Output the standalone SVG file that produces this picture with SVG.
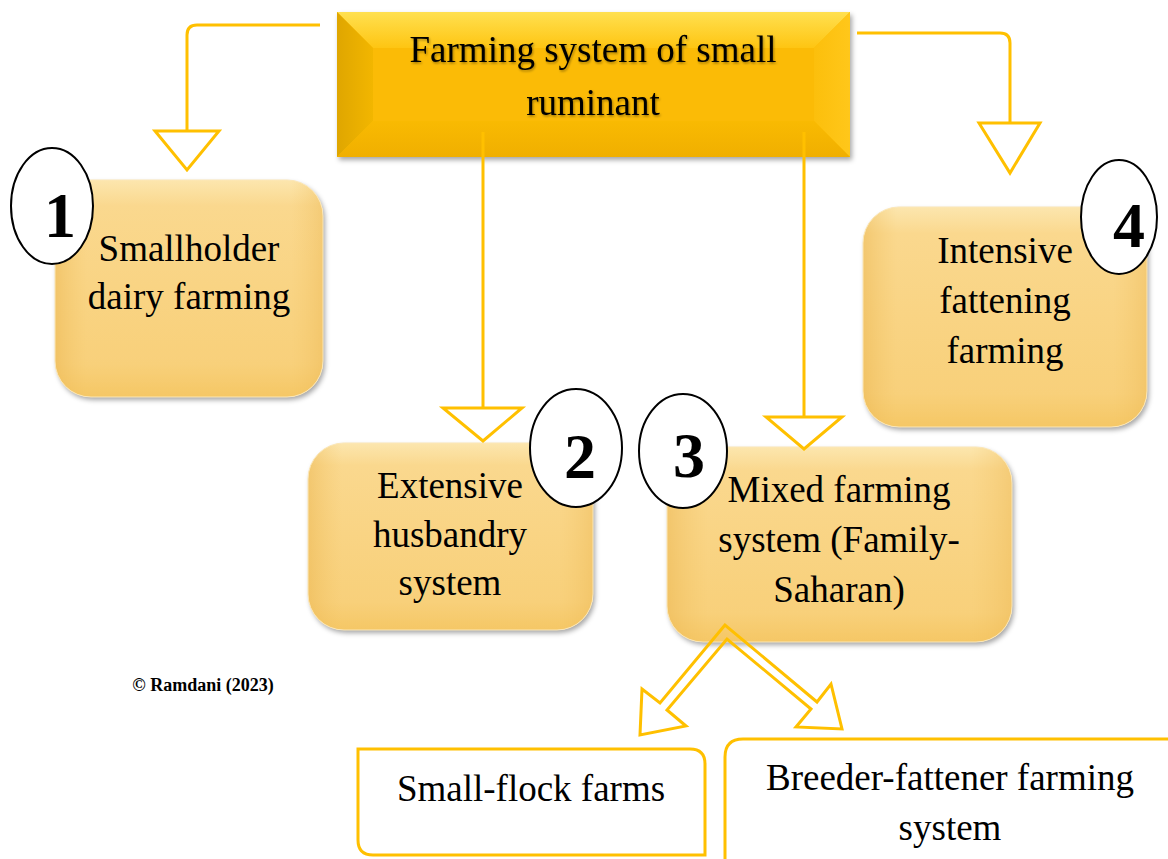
<svg xmlns="http://www.w3.org/2000/svg" width="1168" height="859" viewBox="0 0 1168 859">
  <defs>
    <linearGradient id="nodeV" x1="0" y1="0" x2="0" y2="1">
      <stop offset="0" stop-color="#FCE6AE"/>
      <stop offset="0.12" stop-color="#FAD88E"/>
      <stop offset="0.85" stop-color="#F8D07A"/>
      <stop offset="1" stop-color="#F5C765"/>
    </linearGradient>
    <linearGradient id="nodeH" x1="0" y1="0" x2="1" y2="0">
      <stop offset="0" stop-color="#E9B24A" stop-opacity="0.45"/>
      <stop offset="0.12" stop-color="#F2C260" stop-opacity="0"/>
      <stop offset="0.88" stop-color="#F2C260" stop-opacity="0"/>
      <stop offset="1" stop-color="#E9B24A" stop-opacity="0.35"/>
    </linearGradient>
    <linearGradient id="bevTop" x1="0" y1="0" x2="0" y2="1">
      <stop offset="0" stop-color="#FFE050"/>
      <stop offset="1" stop-color="#FEC512"/>
    </linearGradient>
    <linearGradient id="bevLeft" x1="0" y1="0" x2="1" y2="0">
      <stop offset="0" stop-color="#DFA600"/>
      <stop offset="1" stop-color="#F2B600"/>
    </linearGradient>
    <linearGradient id="bevRight" x1="0" y1="0" x2="1" y2="0">
      <stop offset="0" stop-color="#FCBF0C"/>
      <stop offset="1" stop-color="#FFC71A"/>
    </linearGradient>
    <linearGradient id="bevBot" x1="0" y1="0" x2="0" y2="1">
      <stop offset="0" stop-color="#F9BA02"/>
      <stop offset="1" stop-color="#F0AF00"/>
    </linearGradient>
    <filter id="shadow" x="-10%" y="-10%" width="125%" height="125%">
      <feDropShadow dx="2" dy="3" stdDeviation="2.5" flood-color="#000" flood-opacity="0.35"/>
    </filter>
    <filter id="tshadow" x="-5%" y="-20%" width="110%" height="140%">
      <feDropShadow dx="1" dy="1.5" stdDeviation="1" flood-color="#000" flood-opacity="0.35"/>
    </filter>
  </defs>
  <style>
    .conn { fill: none; stroke: #FFC000; stroke-width: 3; stroke-linejoin: miter; }
    .head { fill: #FFFFFF; stroke: #FFC000; stroke-width: 3; }
    .lbl { font-family: "Liberation Serif", "Times New Roman", serif; font-size: 37px; fill: #000; text-anchor: middle; }
    .num { font-family: "Liberation Serif", "Times New Roman", serif; font-size: 64px; font-weight: bold; fill: #000; text-anchor: middle; }
    .badge { fill: #FFFFFF; stroke: #000; stroke-width: 2; }
    .outline { fill: #FFFFFF; stroke: #FFC000; stroke-width: 3; }
    .copy { font-family: "Liberation Serif", "Times New Roman", serif; font-size: 18px; font-weight: bold; fill: #000; text-anchor: middle; }
  </style>
  <rect width="1168" height="859" fill="#FFFFFF"/>

  <g id="root">
    <g filter="url(#shadow)">
      <rect x="337" y="12" width="513" height="145" fill="#FBBB06"/>
    </g>
    <polygon points="337,12 850,12 814,48 373,48" fill="url(#bevTop)"/>
    <polygon points="337,12 373,48 373,121 337,157" fill="url(#bevLeft)"/>
    <polygon points="850,12 850,157 814,121 814,48" fill="url(#bevRight)"/>
    <polygon points="337,157 373,121 814,121 850,157" fill="url(#bevBot)"/>
    <rect x="373" y="48" width="441" height="73" fill="#FBBB06"/>
    <g filter="url(#tshadow)">
      <text class="lbl" x="593" y="62">Farming system of small</text>
      <text class="lbl" x="593" y="115">ruminant</text>
    </g>
  </g>

  <g id="node1">
    <rect x="55" y="180" width="268" height="217" rx="36" fill="url(#nodeV)" filter="url(#shadow)"/>
    <rect x="55" y="180" width="268" height="217" rx="36" fill="url(#nodeH)" stroke="#FBE7B8" stroke-width="1"/>
    <text class="lbl" x="189" y="261">Smallholder</text>
    <text class="lbl" x="189" y="309">dairy farming</text>
    <ellipse class="badge" cx="52" cy="206" rx="41" ry="58"/>
    <text class="num" x="60" y="237">1</text>
  </g>

  <g id="node2">
    <rect x="308" y="443" width="285" height="187" rx="36" fill="url(#nodeV)" filter="url(#shadow)"/>
    <rect x="308" y="443" width="285" height="187" rx="36" fill="url(#nodeH)" stroke="#FBE7B8" stroke-width="1"/>
    <text class="lbl" x="450" y="498">Extensive</text>
    <text class="lbl" x="450" y="547">husbandry</text>
    <text class="lbl" x="450" y="595">system</text>
    <ellipse class="badge" cx="576" cy="448" rx="46" ry="59"/>
    <text class="num" x="580" y="478">2</text>
  </g>

  <g id="node3">
    <rect x="667" y="447" width="345" height="195" rx="36" fill="url(#nodeV)" filter="url(#shadow)"/>
    <rect x="667" y="447" width="345" height="195" rx="36" fill="url(#nodeH)" stroke="#FBE7B8" stroke-width="1"/>
    <text class="lbl" x="839" y="502">Mixed farming</text>
    <text class="lbl" x="839" y="552">system (Family-</text>
    <text class="lbl" x="839" y="602">Saharan)</text>
    <ellipse class="badge" cx="683" cy="451" rx="44" ry="57"/>
    <text class="num" x="689" y="477">3</text>
  </g>

  <g id="node4">
    <rect x="863" y="207" width="284" height="220" rx="36" fill="url(#nodeV)" filter="url(#shadow)"/>
    <rect x="863" y="207" width="284" height="220" rx="36" fill="url(#nodeH)" stroke="#FBE7B8" stroke-width="1"/>
    <text class="lbl" x="1005" y="263">Intensive</text>
    <text class="lbl" x="1005" y="313">fattening</text>
    <text class="lbl" x="1005" y="363">farming</text>
    <ellipse class="badge" cx="1119" cy="217" rx="38" ry="57"/>
    <text class="num" x="1129" y="247">4</text>
  </g>

  <g id="node5">
    <path class="outline" d="M358,749 H690 Q705,749 705,764 V855 H373 Q358,855 358,840 Z"/>
    <text class="lbl" x="531" y="801">Small-flock farms</text>
  </g>

  <g id="node6">
    <path class="outline" d="M725,875 V757 Q725,739 743,739 H1180 V875 Z"/>
    <text class="lbl" x="950" y="790">Breeder-fattener farming</text>
    <text class="lbl" x="950" y="840">system</text>
  </g>

  <g id="connectors">
    <path class="conn" d="M320,25 H197 Q187,25 187,35 V131"/>
    <path class="head" d="M155,131 H219 L187,170 Z"/>
    <path class="conn" d="M857,33 H1000 Q1010,33 1010,43 V123"/>
    <path class="head" d="M979,123 H1040 L1010,173 Z"/>
    <path class="conn" d="M483,132 V408"/>
    <path class="head" d="M443,408 H522 L483,441 Z"/>
    <path class="conn" d="M804,132 V417"/>
    <path class="head" d="M766,417 H842 L804,449 Z"/>
    <path class="conn" d="M725,625 L660,703 L642,689 L640,735 L686,726 L667,710 L727,639 L811,709 L796,727 L842,729 L831,684 L817,702 Z"/>
  </g>

  <text class="copy" x="203" y="691">© Ramdani (2023)</text>
</svg>
